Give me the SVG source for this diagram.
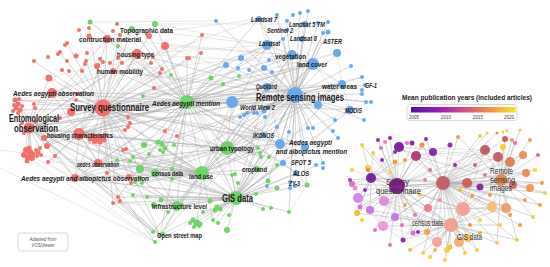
<svg xmlns="http://www.w3.org/2000/svg" width="550" height="267" viewBox="0 0 550 267">
<defs>
<linearGradient id="plasma" x1="0" y1="0" x2="1" y2="0">
<stop offset="0" stop-color="#5510b0"/>
<stop offset="0.3" stop-color="#a020b0"/>
<stop offset="0.5" stop-color="#d84a8a"/>
<stop offset="0.75" stop-color="#f39048"/>
<stop offset="1" stop-color="#f4ea2a"/>
</linearGradient>
</defs>
<style>
.e{fill:none;stroke:#b0b0b0;stroke-width:.5;stroke-opacity:.55;stroke-linejoin:round}
.eo{fill:none;stroke:#b4b4b4;stroke-width:.5;stroke-opacity:.6;stroke-linejoin:round}
.r{fill:#f3716a}
.g{fill:#6fd468}
.b{fill:#6aa8ec}
text{font-family:"Liberation Sans",Arial,sans-serif;fill:#1a1a1a}
.l{font-size:7.5px;font-weight:bold}
.s{font-size:7px;font-weight:bold}
.m{font-size:8px;font-weight:bold}
.i{font-style:italic}
.big{font-size:10.5px;font-weight:bold}
.big2{font-size:11px;font-weight:bold}
.ov{font-size:8.5px;fill:#333}
.tk{font-size:4.5px;fill:#444;text-anchor:middle}
</style>
<rect width="550" height="267" fill="#fff"/>

<g id="connectors">
<path class="e" d="M103 108L29 127 103 108 79 134 103 108 98 163 103 108 75 178 103 108 52 93 103 108 113 71 103 108 137 54 103 108 107 39 103 108 132 29 103 108 187 102 103 108 295 95 103 108 236 198 103 108 202 173 103 108 227 148 103 108 155 173 103 108 177 206 103 108 232 102 103 108 267 45 103 108 292 55 103 108 313 64 103 108 15 100 103 108 20 110 103 108 34 104 103 108 60 118 103 108 49 78 103 108 71 112 103 108 76 100 103 108 77 94 103 108 128 117 103 108 130 123 103 108 97 66 103 108 86 61 103 108 165 46 103 108 149 36 103 108 154 88 103 108 44 138 103 108 47 146 103 108 28 155 103 108 125 130 103 108 165 131 103 108 107 173 103 108 118 197 103 108 113 203 103 108 240 117 103 108 226 65 103 108 201 53 103 108 202 35 103 108 160 235 103 108 342 84 103 108 120 35 103 108 89 28 103 108 67 43 103 108 60 52 103 108 189 58 103 108 34 61 103 108 62 70 103 108 151 63 103 108 162 69 103 108 131 183 103 108 140 169 103 108 280 144 103 108 263 135 103 108 267 87 103 108 305 147 103 108 257 169 103 108 337 53"/>
<path class="e" d="M187 102L295 95 187 102 236 198 187 102 202 173 187 102 227 148 187 102 155 173 187 102 177 206 187 102 232 102 187 102 267 87 187 102 267 45 187 102 292 55 187 102 313 64 187 102 342 84 187 102 137 54 187 102 113 71 187 102 107 39 187 102 132 29 187 102 29 127 187 102 79 134 187 102 98 163 187 102 75 178 187 102 52 93 187 102 257 169 187 102 263 135 187 102 280 144 187 102 350 110 187 102 160 235 187 102 211 78 187 102 239 76 187 102 223 84 187 102 171 75 187 102 143 96 187 102 155 24 187 102 90 22 187 102 165 46 187 102 201 53 187 102 202 35 187 102 187 58 187 102 160 145 187 102 144 145 187 102 140 169 187 102 172 169 187 102 226 65 187 102 259 19 187 102 305 24 187 102 283 163 187 102 296 173 187 102 149 36 187 102 154 88 187 102 128 117 187 102 15 100 187 102 44 138 187 102 118 197 187 102 318 105 187 102 305 147 187 102 337 53"/>
<path class="e" d="M295 95L313 64 295 95 292 55 295 95 267 45 295 95 259 19 295 95 305 24 295 95 287 30 295 95 302 39 295 95 337 53 295 95 328 32 295 95 267 87 295 95 232 102 295 95 342 84 295 95 365 85 295 95 350 110 295 95 263 135 295 95 280 144 295 95 283 163 295 95 296 173 295 95 290 182 295 95 236 198 295 95 202 173 295 95 227 148 295 95 257 169 295 95 155 173 295 95 177 206 295 95 29 127 295 95 79 134 295 95 113 71 295 95 137 54 295 95 318 105 295 95 362 94 295 95 366 102 295 95 371 102 295 95 351 66 295 95 362 77 295 95 305 147 295 95 308 128 295 95 313 128 295 95 333 131 295 95 335 120 295 95 277 127 295 95 264 111 295 95 257 113 295 95 240 117 295 95 244 115 295 95 249 70 295 95 264 68 295 95 272 72 295 95 241 58 295 95 226 65 295 95 216 21 295 95 277 15 295 95 300 13 295 95 308 11 295 95 318 23 295 95 328 22 295 95 323 33 295 95 283 39 295 95 98 163 295 95 75 178 295 95 52 93 295 95 307 185 295 95 268 181 295 95 323 163 295 95 338 138 295 95 364 120 295 95 160 235 295 95 289 212 295 95 165 46"/>
<path class="e" d="M236 198L202 173 236 198 227 148 236 198 257 169 236 198 155 173 236 198 177 206 236 198 160 235 236 198 210 201 236 198 217 207 236 198 220 209 236 198 215 210 236 198 203 212 236 198 229 215 236 198 213 220 236 198 218 223 236 198 227 230 236 198 197 222 236 198 200 224 236 198 263 209 236 198 271 208 236 198 289 212 236 198 256 194 236 198 238 183 236 198 232 175 236 198 268 181 236 198 277 188 236 198 307 185 236 198 283 163 236 198 296 173 236 198 290 182 236 198 280 144 236 198 313 64 236 198 292 55 236 198 342 84 236 198 29 127 236 198 79 134 236 198 98 163 236 198 75 178 236 198 140 169 236 198 133 195 236 198 147 197 236 198 161 200 236 198 154 205 236 198 182 205 236 198 258 148 236 198 261 157 236 198 269 157 236 198 277 165 236 198 350 110 236 198 118 197 236 198 113 203 236 198 305 147 236 198 323 163 236 198 267 87 236 198 232 102"/>
<path class="e" d="M202 173L227 148 202 173 155 173 202 173 177 206 202 173 160 145 202 173 165 148 202 173 174 145 202 173 172 169 202 173 172 179 202 173 149 154 202 173 140 169 202 173 135 182 202 173 142 183 202 173 140 178 202 173 133 157 202 173 130 161 202 173 117 160 202 173 257 169 202 173 313 64 202 173 292 55 202 173 267 45 202 173 342 84 202 173 29 127 202 173 79 134 202 173 98 163 202 173 75 178 202 173 160 235 202 173 197 222 202 173 213 220 202 173 232 175 202 173 258 148 202 173 263 135 202 173 280 144 202 173 153 232 202 173 267 87 202 173 232 102 202 173 350 110"/>
<path class="e" d="M227 148L155 173 227 148 177 206 227 148 258 148 227 148 260 153 227 148 261 157 227 148 269 157 227 148 257 169 227 148 263 135 227 148 280 144 227 148 313 64 227 148 292 55 227 148 29 127 227 148 79 134 227 148 98 163 227 148 75 178 227 148 140 169 227 148 160 145 227 148 267 87 227 148 232 102 227 148 342 84 227 148 137 54"/>
<path class="e" d="M29 127L79 134 29 127 98 163 29 127 75 178 29 127 52 93 29 127 15 100 29 127 20 110 29 127 34 104 29 127 60 118 29 127 28 155 29 127 30 152 29 127 33 158 29 127 24 155 29 127 44 138 29 127 47 146 29 127 40 148 29 127 49 78 29 127 71 112 29 127 137 54 29 127 113 71 29 127 155 173 29 127 177 206 29 127 160 235 29 127 118 197 29 127 153 232 29 127 22 123 29 127 36 122 29 127 107 39 29 127 97 66"/>
<path class="e" d="M79 134L98 163 79 134 75 178 79 134 52 93 79 134 137 54 79 134 113 71 79 134 107 39 79 134 95 138 79 134 100 140 79 134 105 136 79 134 44 138 79 134 47 146 79 134 55 156 79 134 48 162 79 134 128 117 79 134 125 130 79 134 155 173 79 134 177 206 79 134 227 148 79 134 267 45 79 134 313 64 79 134 155 242 79 134 342 84"/>
<path class="e" d="M113 203L160 235M118 197L160 235M153 232L202 173M155 242L236 198M163 234L177 206M75 178L160 235M48 162L155 242M52 93L259 19M107 39L259 19M132 29L267 45M155 24L305 24M90 22L216 21M365 85L350 110M371 102L350 110M362 77L342 84M98 163L177 206M75 178L177 206M137 54L267 45M113 71L292 55M137 54L313 64M107 39L292 55M49 78L137 54M52 93L137 54M15 100L52 93M52 93L113 71M98 163L155 173M98 163L140 169M75 178L155 173M177 206L160 235M155 173L177 206M267 45L313 64M259 19L267 45M302 39L313 64M337 53L342 84M350 110L342 84M313 64L342 84M232 102L267 87M263 135L280 144M283 163L296 173M296 173L290 182M227 148L280 144M257 169L283 163M133 195L160 235M140 178L177 206M289 212L307 185M44 138L75 178M28 155L75 178M48 162L98 163M130 123L98 163M165 131L98 163M177 136L227 148M113 203L177 206M118 197L155 173M107 173L155 173M71 112L79 134M15 100L153 232M20 110L160 235M24 155L155 242M26 150L177 206M44 138L153 232M0 168L155 242M0 150L98 163M49 78L160 235M15 100L75 178M20 110L98 163M113 71L177 206M137 54L202 173M107 39L227 148M165 46L236 198M52 93L202 173M52 93L236 198M137 54L236 198M132 29L187 102M90 22L137 54M155 24L267 45M165 46L292 55M113 71L267 87M98 163L202 173M98 163L227 148M75 178L202 173M75 178L236 198M29 127L232 102M29 127L267 87M79 134L295 95M313 64L350 110M292 55L342 84M267 45L292 55M259 19L292 55M267 87L280 144M232 102L263 135M283 163L307 185M350 110L305 147M296 173L307 185M267 87L342 84M232 102L313 64"/>
</g>

<g id="connectors-overlay">
<path class="eo" d="M397 186L371 178 397 186 384 201 397 186 443 183 397 186 467 183 397 186 416 156 397 186 399 147 397 186 433 152 397 186 463 209 397 186 451 225 397 186 437 242 397 186 428 208 397 186 395 217 397 186 383 226 397 186 370 210 397 186 368 168 397 186 395 162 397 186 422 145 397 186 480 187 397 186 501 180 397 186 358 198 397 186 352 184 397 186 368 170 397 186 362 145 397 186 373 153 397 186 390 138 397 186 385 142 397 186 412 143 397 186 426 139 397 186 403 240 397 186 413 233 397 186 427 232 397 186 357 213 397 186 360 207 397 186 485 150 397 186 498 157 397 186 375 230 397 186 390 245 397 186 382 160 397 186 365 190 397 186 390 172 397 186 405 205 397 186 420 195 397 186 430 170 397 186 415 215 397 186 378 140 397 186 381 148 397 186 352 170"/>
<path class="eo" d="M443 183L467 183 443 183 485 150 443 183 498 157 443 183 510 162 443 183 523 155 443 183 416 156 443 183 433 152 443 183 463 209 443 183 451 225 443 183 437 242 443 183 459 242 443 183 468 238 443 183 492 207 443 183 506 208 443 183 501 180 443 183 513 185 443 183 526 173 443 183 530 188 443 183 428 208 443 183 395 217 443 183 383 226 443 183 480 187 443 183 480 136 443 183 487 133 443 183 497 133 443 183 505 139 443 183 458 137 443 183 450 145 443 183 426 139 443 183 422 145 443 183 447 250 443 183 423 253 443 183 465 253 443 183 477 250 443 183 497 243 443 183 517 240 443 183 533 217 443 183 540 205 443 183 545 193 443 183 542 183 443 183 371 178 443 183 403 240 443 183 413 233 443 183 427 232 443 183 399 147 443 183 455 165 443 183 475 165 443 183 490 195 443 183 440 200 443 183 470 225 443 183 480 220 443 183 510 215 443 183 520 225 443 183 535 170 443 183 525 200 443 183 384 201 443 183 370 210"/>
<path class="eo" d="M501 180L485 150 501 180 498 157 501 180 510 162 501 180 523 155 501 180 513 185 501 180 526 173 501 180 530 188 501 180 492 207 501 180 506 208 501 180 463 209 501 180 451 225 501 180 467 183 501 180 505 139 501 180 512 140 501 180 515 143 501 180 503 147 501 180 533 217 501 180 540 205 501 180 545 193 501 180 542 183 501 180 517 240 501 180 497 243 501 180 480 187 501 180 458 137 501 180 520 130 501 180 530 140 501 180 538 155 501 180 416 156 501 180 433 152"/>
<path class="eo" d="M451 225L463 209 451 225 437 242 451 225 459 242 451 225 468 238 451 225 492 207 451 225 506 208 451 225 428 208 451 225 395 217 451 225 383 226 451 225 447 250 451 225 450 247 451 225 430 257 451 225 423 253 451 225 465 253 451 225 477 250 451 225 497 243 451 225 403 240 451 225 413 233 451 225 427 232 451 225 370 210 451 225 357 213 451 225 517 240 451 225 410 250 451 225 435 250 451 225 445 260 451 225 480 233 451 225 500 225 451 225 384 201 451 225 467 183"/>
<path class="eo" d="M371 178L352 184 371 178 358 198 371 178 368 170 371 178 362 145 371 178 373 153 371 178 384 201 371 178 370 210 371 178 360 207 371 178 357 213 371 178 395 162 371 178 399 147 371 178 416 156 371 178 467 183 371 178 451 225 371 178 463 209 371 178 350 180 371 178 355 188"/>
<path class="eo" d="M463 209L492 207 463 209 506 208 463 209 437 242 463 209 428 208 463 209 467 183 463 209 485 150 463 209 416 156 416 156 399 147 416 156 433 152 416 156 485 150 485 150 498 157 399 147 390 138 433 152 450 145 384 201 395 217 383 226 403 240M384 201L437 242M384 201L463 209M383 226L437 242M358 198L383 226M358 198L451 225M416 156L467 183M416 156L463 209M399 147L485 150M433 152L510 162M485 150L467 183M498 157L463 209M510 162L506 208M523 155L492 207M467 183L492 207M437 242L459 242M395 217L437 242M370 210L437 242M352 184L383 226"/>
</g>

<g id="red-cluster">
<circle class="r" cx="15" cy="100" r="2.5"/><circle class="r" cx="18" cy="104" r="2.5"/><circle class="r" cx="16" cy="108" r="2.5"/><circle class="r" cx="20" cy="110" r="2.5"/><circle class="r" cx="14" cy="105" r="2"/><circle class="r" cx="19" cy="99" r="2"/><circle class="r" cx="22" cy="106" r="2"/><circle class="r" cx="13" cy="111" r="2"/><circle class="r" cx="18" cy="113" r="2"/>
<circle class="r" cx="34" cy="104" r="2"/><circle class="r" cx="35" cy="108" r="2"/><circle class="r" cx="60" cy="118" r="2"/><circle class="r" cx="49" cy="78" r="3.5"/><circle class="r" cx="71" cy="112" r="4"/><circle class="r" cx="76" cy="100" r="2"/><circle class="r" cx="77" cy="94" r="2"/><circle class="r" cx="128" cy="117" r="2"/><circle class="r" cx="130" cy="123" r="2"/>
<circle class="r" cx="97" cy="66" r="3"/><circle class="r" cx="86" cy="61" r="2"/><circle class="r" cx="85" cy="64" r="2"/><circle class="r" cx="100" cy="59" r="2"/><circle class="r" cx="103" cy="62" r="2"/><circle class="r" cx="110" cy="63" r="2"/><circle class="r" cx="165" cy="46" r="4"/><circle class="r" cx="149" cy="36" r="3"/><circle class="r" cx="154" cy="88" r="2"/><circle class="r" cx="117" cy="24" r="2"/><circle class="r" cx="79" cy="30" r="2"/><circle class="r" cx="89" cy="28" r="2"/><circle class="r" cx="113" cy="31" r="2"/><circle class="r" cx="120" cy="35" r="2"/><circle class="r" cx="89" cy="36" r="2.5"/>
<circle class="r" cx="67" cy="43" r="2"/><circle class="r" cx="65" cy="45" r="2"/><circle class="r" cx="60" cy="52" r="2"/><circle class="r" cx="58" cy="54" r="2"/><circle class="r" cx="87" cy="53" r="2"/><circle class="r" cx="76" cy="56" r="2.5"/><circle class="r" cx="118" cy="58" r="2"/><circle class="r" cx="122" cy="63" r="2"/><circle class="r" cx="151" cy="63" r="2"/><circle class="r" cx="153" cy="57" r="2"/><circle class="r" cx="189" cy="58" r="2"/><circle class="r" cx="34" cy="61" r="2"/><circle class="r" cx="48" cy="57" r="2"/><circle class="r" cx="67" cy="61" r="2"/><circle class="r" cx="62" cy="70" r="2"/><circle class="r" cx="69" cy="71" r="2"/><circle class="r" cx="82" cy="71" r="2"/><circle class="r" cx="162" cy="69" r="2"/><circle class="r" cx="160" cy="73" r="2"/><circle class="r" cx="202" cy="35" r="2"/><circle class="r" cx="201" cy="53" r="2"/><circle class="r" cx="187" cy="58" r="2"/><circle class="r" cx="177" cy="136" r="2"/>
<circle class="r" cx="44" cy="138" r="3"/><circle class="r" cx="47" cy="146" r="3"/><circle class="r" cx="55" cy="156" r="2"/><circle class="r" cx="48" cy="162" r="2"/><circle class="r" cx="107" cy="173" r="2"/><circle class="r" cx="123" cy="150" r="2"/><circle class="r" cx="126" cy="149" r="2"/><circle class="r" cx="129" cy="177" r="3"/><circle class="r" cx="131" cy="183" r="2"/><circle class="r" cx="118" cy="197" r="2"/><circle class="r" cx="120" cy="201" r="2"/><circle class="r" cx="113" cy="203" r="2"/><circle class="r" cx="125" cy="130" r="2"/><circle class="r" cx="128" cy="127" r="2"/><circle class="r" cx="165" cy="131" r="2"/>
<circle class="r" cx="26" cy="150" r="3"/><circle class="r" cx="30" cy="152" r="3"/><circle class="r" cx="24" cy="155" r="3"/><circle class="r" cx="28" cy="157" r="3"/><circle class="r" cx="32" cy="158" r="3"/><circle class="r" cx="27" cy="161" r="2.5"/><circle class="r" cx="33" cy="154" r="2.5"/><circle class="r" cx="29" cy="148" r="2.5"/><circle class="r" cx="36" cy="150" r="2"/><circle class="r" cx="38" cy="152" r="2.5"/><circle class="r" cx="40" cy="148" r="2"/><circle class="r" cx="41" cy="155" r="2"/><circle class="r" cx="37" cy="156" r="2"/>
<circle class="r" cx="93" cy="136" r="3"/><circle class="r" cx="97" cy="138" r="3"/><circle class="r" cx="101" cy="137" r="3"/><circle class="r" cx="95" cy="141" r="3"/><circle class="r" cx="100" cy="142" r="2.5"/><circle class="r" cx="104" cy="140" r="2.5"/><circle class="r" cx="90" cy="139" r="2.5"/><circle class="r" cx="106" cy="135" r="2"/>
<circle class="r" cx="22" cy="123" r="2"/><circle class="r" cx="36" cy="122" r="2"/><circle class="r" cx="24" cy="133" r="2"/>
</g>

<g id="green-cluster">
<circle class="g" cx="90" cy="22" r="2.5"/><circle class="g" cx="155" cy="24" r="3"/><circle class="g" cx="118" cy="46" r="2"/><circle class="g" cx="171" cy="75" r="2"/><circle class="g" cx="143" cy="96" r="2"/><circle class="g" cx="211" cy="78" r="2.5"/><circle class="g" cx="239" cy="76" r="2"/><circle class="g" cx="223" cy="84" r="2"/>
<circle class="g" cx="144" cy="145" r="3"/><circle class="g" cx="158" cy="142" r="2.5"/><circle class="g" cx="162" cy="144" r="2.5"/><circle class="g" cx="165" cy="148" r="2.5"/><circle class="g" cx="160" cy="150" r="2"/><circle class="g" cx="163" cy="152" r="2"/><circle class="g" cx="174" cy="145" r="2"/><circle class="g" cx="140" cy="169" r="4"/><circle class="g" cx="172" cy="169" r="2"/><circle class="g" cx="172" cy="179" r="2"/><circle class="g" cx="149" cy="154" r="2"/><circle class="g" cx="117" cy="160" r="2"/><circle class="g" cx="130" cy="161" r="2"/><circle class="g" cx="133" cy="157" r="2"/><circle class="g" cx="135" cy="182" r="2"/><circle class="g" cx="142" cy="183" r="2"/><circle class="g" cx="140" cy="178" r="2"/><circle class="g" cx="133" cy="195" r="2"/><circle class="g" cx="147" cy="197" r="2"/><circle class="g" cx="161" cy="200" r="2.5"/><circle class="g" cx="154" cy="205" r="3"/><circle class="g" cx="168" cy="212" r="2"/>
<circle class="g" cx="193" cy="220" r="2.5"/><circle class="g" cx="196" cy="224" r="2.5"/><circle class="g" cx="190" cy="223" r="2"/><circle class="g" cx="194" cy="227" r="2"/><circle class="g" cx="199" cy="226" r="2"/><circle class="g" cx="153" cy="232" r="2"/><circle class="g" cx="155" cy="242" r="2"/><circle class="g" cx="163" cy="234" r="2"/>
<circle class="g" cx="258" cy="148" r="2"/><circle class="g" cx="260" cy="153" r="2"/><circle class="g" cx="261" cy="157" r="2"/><circle class="g" cx="269" cy="157" r="2"/><circle class="g" cx="268" cy="181" r="2.5"/><circle class="g" cx="277" cy="188" r="2.5"/><circle class="g" cx="277" cy="165" r="2"/><circle class="g" cx="307" cy="185" r="2.5"/><circle class="g" cx="256" cy="194" r="2"/><circle class="g" cx="238" cy="183" r="2"/><circle class="g" cx="232" cy="175" r="2"/><circle class="g" cx="235" cy="174" r="2"/>
<circle class="g" cx="210" cy="201" r="2.5"/><circle class="g" cx="217" cy="207" r="2.5"/><circle class="g" cx="220" cy="209" r="2.5"/><circle class="g" cx="215" cy="210" r="2.5"/><circle class="g" cx="203" cy="212" r="2"/><circle class="g" cx="229" cy="215" r="2"/><circle class="g" cx="213" cy="220" r="2"/><circle class="g" cx="218" cy="223" r="2"/><circle class="g" cx="227" cy="230" r="3"/><circle class="g" cx="197" cy="222" r="2.5"/><circle class="g" cx="200" cy="224" r="2.5"/><circle class="g" cx="263" cy="209" r="2"/><circle class="g" cx="271" cy="208" r="2"/><circle class="g" cx="289" cy="212" r="2"/><circle class="g" cx="182" cy="205" r="2"/>
</g>

<g id="blue-cluster">
<circle class="b" cx="216" cy="21" r="2"/><circle class="b" cx="277" cy="15" r="2"/><circle class="b" cx="287" cy="21" r="2"/><circle class="b" cx="293" cy="15" r="2"/><circle class="b" cx="300" cy="13" r="2"/><circle class="b" cx="308" cy="11" r="2"/><circle class="b" cx="305" cy="24" r="3"/><circle class="b" cx="318" cy="23" r="2"/><circle class="b" cx="328" cy="22" r="2"/><circle class="b" cx="323" cy="33" r="2"/><circle class="b" cx="328" cy="32" r="2.5"/><circle class="b" cx="287" cy="30" r="2"/><circle class="b" cx="283" cy="39" r="2"/><circle class="b" cx="302" cy="39" r="3"/><circle class="b" cx="337" cy="53" r="4"/>
<circle class="b" cx="241" cy="58" r="3"/><circle class="b" cx="269" cy="60" r="2"/><circle class="b" cx="226" cy="65" r="3"/><circle class="b" cx="238" cy="68" r="2"/><circle class="b" cx="249" cy="70" r="2"/><circle class="b" cx="264" cy="68" r="3"/><circle class="b" cx="272" cy="72" r="2"/><circle class="b" cx="351" cy="66" r="2"/><circle class="b" cx="362" cy="77" r="2"/><circle class="b" cx="362" cy="90" r="2"/><circle class="b" cx="362" cy="94" r="2"/><circle class="b" cx="366" cy="102" r="2"/><circle class="b" cx="371" cy="102" r="2"/><circle class="b" cx="318" cy="105" r="4"/>
<circle class="b" cx="264" cy="111" r="2.5"/><circle class="b" cx="257" cy="113" r="2"/><circle class="b" cx="240" cy="117" r="2"/><circle class="b" cx="244" cy="115" r="2"/><circle class="b" cx="247" cy="113" r="2"/><circle class="b" cx="254" cy="113" r="2"/><circle class="b" cx="265" cy="117" r="2"/><circle class="b" cx="268" cy="107" r="2"/><circle class="b" cx="277" cy="127" r="2"/><circle class="b" cx="308" cy="128" r="2"/><circle class="b" cx="313" cy="128" r="2"/><circle class="b" cx="335" cy="120" r="2"/><circle class="b" cx="364" cy="120" r="2"/><circle class="b" cx="289" cy="132" r="2"/><circle class="b" cx="333" cy="131" r="2"/><circle class="b" cx="338" cy="138" r="2"/><circle class="b" cx="305" cy="147" r="4"/><circle class="b" cx="323" cy="163" r="2"/><circle class="b" cx="316" cy="165" r="2"/><circle class="b" cx="323" cy="168" r="2"/><circle class="b" cx="295" cy="186" r="2"/><circle class="b" cx="290" cy="188" r="2"/><circle class="b" cx="267" cy="186" r="2"/>
</g>

<g id="n-topographic"><circle class="g" cx="132" cy="29" r="3"/><text class="l" x="120" y="32.6" textLength="53" lengthAdjust="spacingAndGlyphs">Topographic data</text></g>
<g id="n-construction"><circle class="r" cx="107" cy="39" r="4"/><text class="l" x="79" y="41.6" textLength="62" lengthAdjust="spacingAndGlyphs">contruction material</text></g>
<g id="n-housing-type"><circle class="r" cx="137" cy="54" r="5"/><text class="l" x="117" y="56.6" textLength="37" lengthAdjust="spacingAndGlyphs">housing type</text></g>
<g id="n-human-mobility"><circle class="r" cx="113" cy="71" r="3"/><text class="l" x="97" y="73.6" textLength="46" lengthAdjust="spacingAndGlyphs">human mobility</text></g>
<g id="n-aa-observation"><circle class="r" cx="52" cy="93" r="5"/><text class="l i" x="13" y="95.6" textLength="81" lengthAdjust="spacingAndGlyphs">Aedes aegypti observation</text></g>
<g id="n-survey"><circle class="r" cx="103" cy="108" r="8.5"/><text class="big" x="70" y="110.7" textLength="79" lengthAdjust="spacingAndGlyphs">Survey questionnaire</text></g>
<g id="n-entomological"><circle class="r" cx="29" cy="128" r="5.5"/><text class="big" x="9" y="121.7" textLength="50" lengthAdjust="spacingAndGlyphs">Entomological</text><text class="big" x="14" y="132.2" textLength="44" lengthAdjust="spacingAndGlyphs">observation</text></g>
<g id="n-housing-char"><circle class="r" cx="79" cy="134" r="6"/><text class="m" x="47" y="138" textLength="66" lengthAdjust="spacingAndGlyphs">housing characteristics</text></g>
<g id="n-aedes-observation"><circle class="r" cx="98" cy="163" r="4"/><text class="s i" x="77" y="166.5" textLength="42" lengthAdjust="spacingAndGlyphs">aedes observation</text></g>
<g id="n-aaao-observation"><circle class="r" cx="75" cy="178" r="4"/><text class="l i" x="21" y="180.6" textLength="128" lengthAdjust="spacingAndGlyphs">Aedes aegypti and albopictus observation</text></g>
<g id="n-aa-mention"><circle class="g" cx="187" cy="102" r="7"/><text class="l i" x="152" y="105.6" textLength="68" lengthAdjust="spacingAndGlyphs">Aedes aegypti mention</text></g>
<g id="n-census"><circle class="g" cx="155" cy="173" r="4"/><text class="s" x="152" y="175.5" textLength="31" lengthAdjust="spacingAndGlyphs">census data</text></g>
<g id="n-land-use"><circle class="g" cx="202" cy="173" r="7"/><text class="m" x="189" y="178.8" textLength="24" lengthAdjust="spacingAndGlyphs">land use</text></g>
<g id="n-urban-typology"><circle class="g" cx="227" cy="148" r="7"/><text class="m" x="210" y="150.8" textLength="44" lengthAdjust="spacingAndGlyphs">urban typology</text></g>
<g id="n-cropland"><circle class="g" cx="257" cy="169" r="3"/><text class="l" x="242" y="171.6" textLength="25" lengthAdjust="spacingAndGlyphs">cropland</text></g>
<g id="n-infrastructure"><circle class="g" cx="177" cy="206" r="5"/><text class="l" x="152" y="208.6" textLength="55" lengthAdjust="spacingAndGlyphs">Infrastructure level</text></g>
<g id="n-osm"><circle class="g" cx="160" cy="235" r="2"/><text class="s" x="157" y="237.5" textLength="45" lengthAdjust="spacingAndGlyphs">Open street map</text></g>
<g id="n-gis"><circle class="g" cx="236" cy="198" r="7"/><text class="big2" x="222" y="201.8" textLength="31" lengthAdjust="spacingAndGlyphs">GIS data</text></g>
<g id="n-landsat7"><circle class="b" cx="259" cy="19" r="3"/><text class="s i" x="251" y="21.5" textLength="26" lengthAdjust="spacingAndGlyphs">Landsat 7</text></g>
<g id="n-landsat5"><text class="s i" x="289" y="26.5" textLength="36" lengthAdjust="spacingAndGlyphs">Landsat 5 TM</text></g>
<g id="n-sentinel"><text class="s i" x="267" y="32.5" textLength="26" lengthAdjust="spacingAndGlyphs">Sentinel 2</text></g>
<g id="n-landsat8"><text class="s i" x="290" y="40.5" textLength="27" lengthAdjust="spacingAndGlyphs">Landsat 8</text></g>
<g id="n-aster"><text class="s i" x="323" y="43.5" textLength="19" lengthAdjust="spacingAndGlyphs">ASTER</text></g>
<g id="n-landsat"><circle class="b" cx="267" cy="45" r="5"/><text class="s i" x="259" y="45.5" textLength="21" lengthAdjust="spacingAndGlyphs">Landsat</text></g>
<g id="n-vegetation"><circle class="b" cx="292" cy="55" r="5"/><text class="m" x="275" y="58.8" textLength="31" lengthAdjust="spacingAndGlyphs">vegetation</text></g>
<g id="n-land-cover"><circle class="b" cx="313" cy="64" r="6"/><text class="m" x="297" y="66.8" textLength="30" lengthAdjust="spacingAndGlyphs">land cover</text></g>
<g id="n-quickbird"><circle class="b" cx="267" cy="87" r="4"/><text class="s i" x="256" y="88.5" textLength="21" lengthAdjust="spacingAndGlyphs">Quickbird</text></g>
<g id="n-water"><circle class="b" cx="342" cy="84" r="4"/><text class="m" x="322" y="88.8" textLength="35" lengthAdjust="spacingAndGlyphs">water areas</text></g>
<g id="n-gf1"><circle class="b" cx="365" cy="85" r="2"/><text class="s i" x="365" y="87.5" textLength="12" lengthAdjust="spacingAndGlyphs">GF-1</text></g>
<g id="n-remote"><circle class="b" cx="295" cy="95" r="8"/><text class="big2" x="256" y="100.8" textLength="88" lengthAdjust="spacingAndGlyphs">Remote sensing images</text></g>
<g id="n-worldview"><circle class="b" cx="232" cy="102" r="6"/><text class="s i" x="240" y="109.5" textLength="35" lengthAdjust="spacingAndGlyphs">World View 2</text></g>
<g id="n-modis"><circle class="b" cx="350" cy="110" r="4"/><text class="s i" x="345" y="112.5" textLength="17" lengthAdjust="spacingAndGlyphs">MODIS</text></g>
<g id="n-ikonos"><circle class="b" cx="263" cy="135" r="3"/><text class="s i" x="253" y="137.5" textLength="21" lengthAdjust="spacingAndGlyphs">IKONOS</text></g>
<g id="n-aaao-mention"><circle class="b" cx="280" cy="144" r="5"/><text class="m i" x="289" y="144.8" textLength="43" lengthAdjust="spacingAndGlyphs">Aedes aegypti</text><text class="m i" x="276" y="153.8" textLength="71" lengthAdjust="spacingAndGlyphs">and albopictus mention</text></g>
<g id="n-spot5"><circle class="b" cx="283" cy="163" r="3"/><text class="s i" x="291" y="164.5" textLength="20" lengthAdjust="spacingAndGlyphs">SPOT 5</text></g>
<g id="n-alos"><circle class="b" cx="296" cy="173" r="3"/><text class="s i" x="293" y="175.5" textLength="16" lengthAdjust="spacingAndGlyphs">ALOS</text></g>
<g id="n-zy3"><circle class="b" cx="290" cy="182" r="2"/><text class="s i" x="289" y="185.5" textLength="11" lengthAdjust="spacingAndGlyphs">ZY-3</text></g>

<g id="credit"><rect x="18" y="233" width="50" height="18" rx="3" fill="#fff" stroke="#cfcfcf" stroke-width="0.8"/><text x="43" y="240.5" font-size="4.5" font-style="italic" text-anchor="middle" style="fill:#555">Adapted from</text><text x="43" y="246.5" font-size="4.5" font-style="italic" text-anchor="middle" style="fill:#555">VOSViewer</text></g>

<g id="legend">
<text x="402" y="100" font-size="8" font-weight="bold" textLength="130" lengthAdjust="spacingAndGlyphs">Mean publication years (included articles)</text>
<rect x="407" y="104.5" width="110" height="16" rx="3" fill="#fff" stroke="#cfcfcf" stroke-width="0.8"/>
<rect x="411" y="107" width="105" height="5.5" fill="url(#plasma)"/>
<text class="tk" x="414" y="119">2005</text><text class="tk" x="446" y="119">2010</text><text class="tk" x="478" y="119">2015</text><text class="tk" x="509" y="119">2020</text>
</g>

<g id="overlay-nodes">
<circle cx="397" cy="186" r="8" fill="#8e1f92"/><circle cx="371" cy="178" r="5" fill="#7a22a4"/><circle cx="384" cy="201" r="5" fill="#e38ce0"/><circle cx="443" cy="183" r="7" fill="#c7606d"/><circle cx="467" cy="183" r="5" fill="#d0605a"/><circle cx="485" cy="150" r="5" fill="#c2606a"/><circle cx="498" cy="157" r="5" fill="#c8626a"/><circle cx="510" cy="162" r="5" fill="#e0845e"/><circle cx="523" cy="155" r="4" fill="#e8945a"/><circle cx="416" cy="156" r="5" fill="#b0407e"/><circle cx="399" cy="147" r="5" fill="#7b26a6"/><circle cx="433" cy="152" r="4" fill="#8a2ea6"/>
<circle cx="463" cy="209" r="7" fill="#f2a596"/><circle cx="451" cy="225" r="7" fill="#f3a090"/><circle cx="437" cy="242" r="5" fill="#f2a59a"/><circle cx="459" cy="242" r="5" fill="#f3b070"/><circle cx="468" cy="238" r="4" fill="#f7c25a"/><circle cx="492" cy="207" r="5" fill="#f6c070"/><circle cx="506" cy="208" r="5" fill="#f0a070"/><circle cx="501" cy="180" r="6" fill="#e48a5a"/><circle cx="513" cy="185" r="4" fill="#d86a60"/><circle cx="526" cy="173" r="4" fill="#e89060"/><circle cx="530" cy="188" r="4" fill="#f09a5a"/><circle cx="428" cy="208" r="4" fill="#f08090"/><circle cx="395" cy="217" r="4" fill="#c67ae6"/><circle cx="383" cy="226" r="5" fill="#f09ad6"/><circle cx="370" cy="210" r="4" fill="#c878e4"/>
<circle cx="368" cy="168" r="3" fill="#f6cf3a"/><circle cx="395" cy="162" r="2.5" fill="#f0a040"/><circle cx="422" cy="145" r="2.5" fill="#f09040"/><circle cx="503" cy="147" r="3" fill="#f2d030"/><circle cx="480" cy="187" r="3.5" fill="#9030a0"/><circle cx="358" cy="198" r="5" fill="#d488ea"/><circle cx="352" cy="184" r="3" fill="#e070c0"/><circle cx="350" cy="180" r="2" fill="#a040c0"/><circle cx="355" cy="188" r="2.5" fill="#f090c0"/><circle cx="368" cy="170" r="2" fill="#f08040"/><circle cx="362" cy="145" r="2" fill="#f6d030"/><circle cx="373" cy="153" r="2" fill="#f6d030"/><circle cx="357" cy="213" r="3" fill="#f2c040"/><circle cx="360" cy="207" r="2.5" fill="#e070d0"/>
<circle cx="480" cy="136" r="2" fill="#f6d030"/><circle cx="487" cy="133" r="1.5" fill="#f6d030"/><circle cx="497" cy="133" r="1.5" fill="#f09040"/><circle cx="503" cy="132" r="1.5" fill="#f6d030"/><circle cx="507" cy="131" r="1.5" fill="#f6d030"/><circle cx="505" cy="139" r="3" fill="#d06070"/><circle cx="512" cy="140" r="2" fill="#f0a040"/><circle cx="515" cy="143" r="2" fill="#e070c0"/><circle cx="458" cy="137" r="2" fill="#f0a040"/><circle cx="450" cy="145" r="2.5" fill="#8a30b0"/><circle cx="426" cy="139" r="2" fill="#8a30b0"/><circle cx="412" cy="143" r="2.5" fill="#8a30b0"/><circle cx="407" cy="143" r="2" fill="#e070c0"/><circle cx="390" cy="138" r="2" fill="#9030b0"/><circle cx="385" cy="142" r="2" fill="#f080b0"/>
<circle cx="447" cy="250" r="3" fill="#f6d040"/><circle cx="450" cy="247" r="2.5" fill="#f7c040"/><circle cx="430" cy="257" r="2" fill="#f6d040"/><circle cx="423" cy="253" r="2" fill="#f6d040"/><circle cx="465" cy="253" r="2" fill="#f6d040"/><circle cx="477" cy="250" r="2" fill="#f6d040"/><circle cx="497" cy="243" r="2" fill="#f8d040"/><circle cx="517" cy="240" r="2" fill="#f8d040"/><circle cx="533" cy="217" r="2" fill="#f8d040"/><circle cx="540" cy="205" r="2" fill="#f0a040"/><circle cx="545" cy="193" r="2" fill="#f8d040"/><circle cx="542" cy="183" r="2" fill="#f0a040"/><circle cx="403" cy="240" r="2.5" fill="#9030b0"/><circle cx="413" cy="233" r="2.5" fill="#e070d0"/><circle cx="427" cy="232" r="3" fill="#f0a050"/>
<circle cx="375" cy="230" r="2" fill="#e070d0"/><circle cx="390" cy="245" r="2" fill="#e070c0"/><circle cx="410" cy="250" r="2" fill="#f0c040"/><circle cx="470" cy="225" r="2" fill="#f0a040"/><circle cx="480" cy="220" r="2" fill="#f8d040"/><circle cx="520" cy="225" r="2" fill="#f0a040"/><circle cx="525" cy="200" r="2" fill="#f0a040"/><circle cx="535" cy="170" r="2" fill="#f8d040"/><circle cx="420" cy="195" r="2" fill="#f8d040"/><circle cx="430" cy="170" r="2" fill="#e070c0"/><circle cx="455" cy="165" r="2" fill="#9030b0"/><circle cx="475" cy="165" r="2" fill="#e06070"/><circle cx="490" cy="195" r="2" fill="#f0a040"/><circle cx="440" cy="200" r="2" fill="#f090a0"/><circle cx="415" cy="215" r="2" fill="#e070c0"/><circle cx="382" cy="160" r="2" fill="#9030b0"/><circle cx="365" cy="190" r="2" fill="#9030b0"/><circle cx="390" cy="172" r="2" fill="#f8d040"/><circle cx="405" cy="205" r="2" fill="#f0a050"/><circle cx="500" cy="225" r="2" fill="#f8d040"/><circle cx="510" cy="215" r="2" fill="#f0a040"/><circle cx="480" cy="233" r="2" fill="#f0b040"/><circle cx="445" cy="260" r="2" fill="#f8d040"/><circle cx="435" cy="250" r="2" fill="#f0c040"/>
<circle cx="378" cy="140" r="2" fill="#9030b0"/><circle cx="381" cy="148" r="2" fill="#e070c0"/><circle cx="352" cy="170" r="2" fill="#f6d030"/><circle cx="520" cy="130" r="1.5" fill="#f6d030"/><circle cx="530" cy="140" r="2" fill="#f0a040"/><circle cx="538" cy="155" r="2" fill="#e07080"/><circle cx="395" cy="152" r="2" fill="#9030b0"/><circle cx="405" cy="160" r="2" fill="#f0a040"/><circle cx="418" cy="232" r="2" fill="#9030b0"/><circle cx="402" cy="225" r="2" fill="#e070d0"/><circle cx="362" cy="220" r="2" fill="#f6d030"/><circle cx="472" cy="196" r="2" fill="#f0a040"/><circle cx="485" cy="175" r="2" fill="#e070c0"/><circle cx="460" cy="190" r="2" fill="#f0c040"/><circle cx="425" cy="180" r="2" fill="#f08090"/>
</g>
<g id="overlay-labels">
<text class="ov" x="386" y="185" textLength="23" lengthAdjust="spacingAndGlyphs">Survey</text>
<text class="ov" x="376" y="194" textLength="45" lengthAdjust="spacingAndGlyphs">questionnaire</text>
<text class="ov" x="490" y="174" textLength="23" lengthAdjust="spacingAndGlyphs">Remote</text>
<text class="ov" x="490" y="182.5" textLength="25" lengthAdjust="spacingAndGlyphs">sensing</text>
<text class="ov" x="490" y="191" textLength="22" lengthAdjust="spacingAndGlyphs">images</text>
<text class="ov" x="412" y="226" font-size="8" textLength="31" lengthAdjust="spacingAndGlyphs">census data</text>
<text class="ov" x="457" y="240" font-size="8" textLength="25" lengthAdjust="spacingAndGlyphs">GIS data</text>
</g>
</svg>
